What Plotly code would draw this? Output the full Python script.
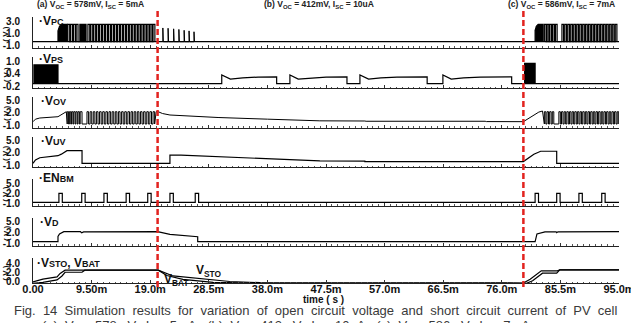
import plotly.graph_objects as go

W, H = 631, 323

# ---------------- data (time in ms, voltage in V) ----------------
TIME_TICKS = [0, 9.5, 19.0, 28.5, 38.0, 47.5, 57.0, 66.5, 76.0, 85.5, 95.0]
TIME_TICK_TEXT = ["0.00", "9.50m", "19.0m", "28.5m", "38.0m", "47.5m",
                  "57.0m", "66.5m", "76.0m", "85.5m", "95.0m"]
EVENT_TIMES = [20.2, 79.5]
HEADERS = ["(a) V<sub>OC</sub> = 578mV, I<sub>SC</sub> = 5mA",
           "(b) V<sub>OC</sub> = 412mV, I<sub>SC</sub> = 10uA",
           "(c) V<sub>OC</sub> = 586mV, I<sub>SC</sub> = 7mA"]
PANEL_LABELS = ["V<span style='font-size:9px'>PC</span>",
                "V<span style='font-size:9px'>PS</span>",
                "V<span style='font-size:9px'>OV</span>",
                "V<span style='font-size:9px'>UV</span>",
                "EN<span style='font-size:9px'>BM</span>",
                "V<span style='font-size:9px'>D</span>",
                "V<span style='font-size:9px'>STO</span>, V<span style='font-size:9px'>BAT</span>"]
Y_TICKS = [[3.0, 1.0, -1.0], [1.0, 0.4, -0.2], [5.0, 2.0, -1.0], [5.0, 2.0, -1.0],
           [5.0, 2.0, -1.0], [5.0, 2.0, -1.0], [4.0, 2.0, 0.0]]

# VPC
VPC_LOW, VPC_HIGH = -0.44, 2.52
VPC_BLOCK_A_T = [4.05, 4.05, 4.3, 4.6, 5.55, 5.55]
VPC_BLOCK_A_V = [-0.44, 1.4, 2.2, 2.52, 2.52, -0.44]
VPC_BLOCK_A2_T = [7.6, 7.6, 8.6, 8.6]
VPC_BLOCK_A2_V = [-0.44, 2.52, 2.52, -0.44]
VPC_BLOCK_C_T = [81.4, 81.4, 81.6, 81.9, 82.7, 82.7]
VPC_BLOCK_C_V = [-0.44, 1.5, 2.2, 2.52, 2.52, -0.44]
VPC_A_STARTS = [5.65, 6.1, 6.55, 7.0, 8.9, 9.38, 9.86, 10.34, 10.82, 11.3, 11.78,
                12.26, 12.74, 13.22, 13.7, 14.18, 14.66, 15.14, 15.62, 16.1, 16.58,
                17.06, 17.54, 18.02, 18.5, 18.98, 19.46]
VPC_A_WIDTH = 0.3
VPC_SMALL_STARTS = [21.05, 21.9, 22.8, 23.65, 24.5, 25.3, 26.1]
VPC_SMALL_HEIGHTS = [1.9, 1.85, 1.75, 1.65, 1.5, 1.4, 1.25]
VPC_SMALL_WIDTH = 0.08
VPC_C_STARTS = [82.9, 83.35, 83.8, 84.25, 84.7, 85.75, 86.23, 86.71, 87.19, 87.67,
                88.15, 88.63, 89.11, 89.59, 90.07, 90.55, 91.03, 91.51, 91.99, 92.47,
                92.95, 93.43, 93.91, 94.39]
VPC_C_WIDTH = 0.27

# VPS
VPS_BLOCK_A_T = [0.15, 0.15, 4.05, 4.05]
VPS_BLOCK_A_V = [-0.08, 0.84, 0.84, -0.08]
VPS_BLOCK_C_T = [79.7, 79.7, 81.4, 81.4]
VPS_BLOCK_C_V = [-0.08, 0.92, 0.92, -0.08]
VPS_T = [0, 30.6, 30.6, 32.0, 34.0, 36.5, 39.5, 39.5, 41.65, 41.65, 43.0, 45.0, 47.5,
         50.9, 50.9, 53.0, 53.0, 54.4, 56.4, 59.0, 63.9, 63.9, 66.45, 66.45, 67.8,
         69.8, 72.5, 77.6, 77.6, 95]
VPS_V = [-0.08, -0.08, 0.35, 0.14, 0.2, 0.24, 0.25, -0.08, -0.08, 0.35, 0.14, 0.2,
         0.24, 0.25, -0.08, -0.08, 0.35, 0.14, 0.2, 0.24, 0.25, -0.08, -0.08, 0.35,
         0.14, 0.2, 0.24, 0.25, -0.08, -0.08]

# VOV
VOV_LOW, VOV_HIGH = -0.76, 2.19
VOV_ENV1_T = [0, 0.4, 1.1, 4.05, 5.4]
VOV_ENV1_V = [-0.21, 0.4, 0.68, 0.99, 2.19]
VOV_A_STARTS = [5.55, 5.9, 6.25, 6.6, 6.95, 7.3, 7.65, 8.75, 9.26, 9.77, 10.28, 10.79,
                11.3, 11.81, 12.32, 12.83, 13.34, 13.85, 14.36, 14.87, 15.38, 15.89,
                16.4, 16.91, 17.42, 17.93, 18.44, 18.95, 19.46]
VOV_A_WIDTHS = [0.22, 0.22, 0.22, 0.22, 0.22, 0.22, 0.3, 0.26, 0.26, 0.26, 0.26, 0.26,
                0.26, 0.26, 0.26, 0.26, 0.26, 0.26, 0.26, 0.26, 0.26, 0.26, 0.26, 0.26,
                0.26, 0.26, 0.26, 0.26, 0.26]
VOV_ENV2_T = [19.97, 20.2, 21.0, 22.2, 25.0, 30.0, 38.0, 46.5, 53.8, 54.0, 73.3, 73.5,
              79.5, 80.2, 81.2, 82.0, 82.6]
VOV_ENV2_V = [2.19, 2.25, 1.75, 1.4, 1.15, 0.8, 0.4, 0.0, -0.04, -0.1, -0.1, -0.18,
              -0.2, 0.5, 1.4, 2.1, 2.36]
VOV_C_STARTS = [82.9, 83.33, 83.76, 84.19, 85.25, 85.68, 86.11, 86.54, 86.97, 87.4,
                87.83, 88.26, 88.69, 89.12, 89.55, 89.98, 90.41, 90.84, 91.27, 91.7,
                92.13, 92.56, 92.99, 93.42, 93.85, 94.28, 94.71]
VOV_C_WIDTH = 0.24

# VUV
VUV_T = [0, 0.4, 1.1, 4.05, 4.6, 5.2, 5.5, 7.95, 7.95, 22.2, 22.2, 24.0, 30.0, 38.0,
         46.5, 53.8, 53.8, 79.5, 80.2, 81.2, 82.3, 84.9, 84.9, 95]
VUV_V = [-0.59, 0.2, 0.75, 1.23, 1.6, 2.19, 2.43, 2.43, -0.59, -0.59, 1.4, 1.35, 1.0,
         0.6, 0.0, -0.05, -0.18, -0.18, 0.6, 1.6, 2.3, 2.3, -0.59, -0.59]

# ENBM
ENBM_LOW, ENBM_HIGH = -0.7, 2.0
ENBM_STARTS = [4.2, 7.9, 11.5, 15.1, 18.6, 22.2, 26.3, 81.4, 84.9, 88.5, 92.2]
ENBM_WIDTH = 0.55

# VD
VD_T = [0, 4.05, 4.05, 4.3, 5.0, 7.7, 7.9, 8.2, 20.2, 22.2, 26.7, 26.7, 81.4, 81.7,
        83.0, 84.8, 84.9, 85.1, 95]
VD_V = [-0.56, -0.56, 0.9, 1.6, 2.22, 2.22, 1.9, 2.15, 2.22, 1.5, 0.83, -0.56, -0.56,
        1.6, 2.15, 2.2, 1.95, 2.2, 2.22]

# VSTO / VBAT
VSTO_T = [0, 1.6, 3.9, 4.4, 5.2, 20.3, 22.7, 26.5, 31.9, 36.8, 50.0, 79.5, 80.6, 81.6,
          82.4, 85.0, 85.4, 95]
VSTO_V = [-0.08, 0.5, 1.0, 1.75, 2.45, 2.45, 1.2, 0.65, 0.0, -0.25, -0.32, -0.32, 0.5,
          1.4, 2.3, 2.3, 2.5, 2.5]
VBAT_T = [0, 1.6, 3.9, 4.7, 5.2, 7.95, 8.4, 20.3, 21.7, 24.3, 29.2, 36.8, 79.5, 80.0,
          81.0, 82.1, 82.6, 84.9, 85.4, 95]
VBAT_V = [-0.38, -0.2, 0.35, 1.2, 2.0, 2.0, 2.45, 2.45, 1.3, 0.45, -0.2, -0.38, -0.38,
          -0.38, 0.15, 1.2, 1.8, 1.8, 2.5, 2.5]

CAPTION_1 = "Fig. 14 Simulation results for variation of open circuit voltage and short circuit current of PV cell"
CAPTION_2 = ("(a) V<sub>OC</sub>=578mV, I<sub>SC</sub>=5mA, (b) V<sub>OC</sub>=412mV, "
             "I<sub>SC</sub>=10uA, (c) V<sub>OC</sub>=586mV, I<sub>SC</sub>=7mA")


# ---------------- helpers ----------------
def train(starts, widths, lo, hi):
    xs, ys = [], []
    if not isinstance(widths, list):
        widths = [widths] * len(starts)
    if not isinstance(hi, list):
        hi = [hi] * len(starts)
    for s, w, h in zip(starts, widths, hi):
        xs += [s, s, s + w, s + w]
        ys += [lo, h, h, lo]
    return xs, ys


def wide(text):
    # justified-looking caption: widen the gaps between words
    return text.replace(" ", "&nbsp;&nbsp;")


# ---------------- layout geometry (pixels) ----------------
X_LEFT, X_RIGHT = 33, 619
# (top px of domain, bottom px, px of first tick, px of last tick)
GEOM = [(17, 47.5, 21.5, 45.0), (57, 88, 61.7, 86.0), (97, 127.5, 100, 125),
        (137, 167, 140, 165), (179, 205.5, 183.3, 203.3), (218, 245.5, 221.7, 243.3),
        (257.5, 283, 263.0, 281.5)]


def py(p):
    return 1 - p / H


def px(p):
    return p / W


fig = go.Figure()
FONT_B = "Liberation Sans, Arial, sans-serif"


def add(i, xs, ys, fill=False, width=1.2):
    kw = dict(x=xs, y=ys, mode="lines", line=dict(color="black", width=width),
              xaxis="x" if i == 1 else f"x{i}", yaxis="y" if i == 1 else f"y{i}",
              showlegend=False, hoverinfo="skip")
    if fill:
        kw.update(fill="toself", fillcolor="black")
    fig.add_trace(go.Scatter(**kw))


# panel 1: VPC
add(1, [0, 95], [VPC_LOW, VPC_LOW])
add(1, VPC_BLOCK_A_T, VPC_BLOCK_A_V, fill=True)
add(1, VPC_BLOCK_A2_T, VPC_BLOCK_A2_V, fill=True)
add(1, VPC_BLOCK_C_T, VPC_BLOCK_C_V, fill=True)
add(1, *train(VPC_A_STARTS, VPC_A_WIDTH, VPC_LOW, VPC_HIGH))
add(1, *train(VPC_SMALL_STARTS, VPC_SMALL_WIDTH, VPC_LOW, VPC_SMALL_HEIGHTS), width=1)
add(1, *train(VPC_C_STARTS, VPC_C_WIDTH, VPC_LOW, VPC_HIGH))

# panel 2: VPS
add(2, VPS_T, VPS_V)
add(2, VPS_BLOCK_A_T, VPS_BLOCK_A_V, fill=True)
add(2, VPS_BLOCK_C_T, VPS_BLOCK_C_V, fill=True)

# panel 3: VOV
a_x, a_y = train(VOV_A_STARTS, VOV_A_WIDTHS, VOV_LOW, VOV_HIGH)
c_x, c_y = train(VOV_C_STARTS, VOV_C_WIDTH, VOV_LOW, VOV_HIGH)
add(3, VOV_ENV1_T + a_x + VOV_ENV2_T + c_x, VOV_ENV1_V + a_y + VOV_ENV2_V + c_y, width=1)

# panel 4: VUV
add(4, VUV_T, VUV_V)

# panel 5: ENBM
e_x, e_y = train(ENBM_STARTS, ENBM_WIDTH, ENBM_LOW, ENBM_HIGH)
add(5, [0] + e_x + [95], [ENBM_LOW] + e_y + [ENBM_LOW])

# panel 6: VD
add(6, VD_T, VD_V)

# panel 7: VSTO, VBAT
add(7, VSTO_T, VSTO_V)
add(7, VBAT_T, VBAT_V)

layout = {}
for i, (top, bot, p_hi, p_lo) in enumerate(GEOM, start=1):
    ticks = Y_TICKS[i - 1]
    v_hi, v_lo = ticks[0], ticks[-1]
    k = (p_lo - p_hi) / (v_hi - v_lo)
    r_top = v_hi + (p_hi - top) / k
    r_bot = v_lo - (bot - p_lo) / k
    sx = "" if i == 1 else str(i)
    layout[f"xaxis{sx}"] = dict(
        domain=[px(X_LEFT), px(X_RIGHT)], range=[0, 95], anchor=f"y{sx}",
        automargin=False,
        showline=True, linecolor="#222", linewidth=1, showgrid=False, zeroline=False,
        ticks="inside", ticklen=3, tickcolor="#333", tickvals=TIME_TICKS,
        ticktext=[f"<b>{t}</b>" for t in TIME_TICK_TEXT], showticklabels=(i == 7),
        tickfont=dict(family=FONT_B, size=11, color="#111"), ticklabeloverflow="allow",
        ticklabelstandoff=-4,
        minor=dict(ticks="inside", ticklen=1.5, dtick=0.95, tick0=0, tickcolor="#555"),
    )
    layout[f"yaxis{sx}"] = dict(
        domain=[py(bot), py(top)], range=[r_bot, r_top], anchor=f"x{sx}",
        automargin=False,
        showline=True, linecolor="#222", linewidth=1, showgrid=False, zeroline=False,
        ticks="outside", ticklen=10, tickcolor="rgba(0,0,0,0)",
        tickvals=ticks, ticktext=[f"<b>{t:.1f}</b>" for t in ticks],
        tickfont=dict(family=FONT_B, size=10, color="#111"),
    )

shapes = []
for t in EVENT_TIMES:
    shapes.append(dict(type="line", xref="x7", yref="paper", x0=t, x1=t,
                       y0=py(287), y1=py(11),
                       line=dict(color="#e2231f", width=2.5, dash="6px,3px")))

ann = []
for txt, x0 in zip(HEADERS, [35, 262, 506]):
    ann.append(dict(text=f"<b>{txt}</b>", x=px(x0), y=py(5), xref="paper", yref="paper",
                    xanchor="left", yanchor="middle", showarrow=False,
                    font=dict(family=FONT_B, size=8.5, color="#222")))
label_pos = [(37, 21), (37, 59), (39, 101), (39, 141), (37, 178), (38, 222), (35, 263)]
for txt, (lx, ly) in zip(PANEL_LABELS, label_pos):
    ann.append(dict(text=f"<b>·{txt}</b>", x=px(lx), y=py(ly), xref="paper", yref="paper",
                    xanchor="left", yanchor="middle", showarrow=False,
                    font=dict(family=FONT_B, size=12, color="#111")))
for top, bot, p_hi, p_lo in GEOM:
    ann.append(dict(text="<b>( V )</b>", x=px(6), y=py((p_hi + p_lo) / 2 + 1.5),
                    xref="paper", yref="paper", textangle=-90, showarrow=False,
                    xanchor="center", yanchor="middle",
                    font=dict(family=FONT_B, size=8, color="#111")))
ann.append(dict(text="<b>V<sub>STO</sub></b>", x=px(194), y=py(271), xref="paper",
                yref="paper", xanchor="left", yanchor="middle", showarrow=False,
                font=dict(family=FONT_B, size=12, color="#111")))
ann.append(dict(text="<b>V<sub>BAT</sub></b>", x=px(162), y=py(280), xref="paper",
                yref="paper", xanchor="left", yanchor="middle", showarrow=False,
                font=dict(family=FONT_B, size=12, color="#111")))
ann.append(dict(text="<b>time ( s )</b>", x=px(324), y=py(299), xref="paper",
                yref="paper", xanchor="center", yanchor="middle", showarrow=False,
                font=dict(family=FONT_B, size=10, color="#111")))
ann.append(dict(text=wide(CAPTION_1), x=px(315), y=py(310.5), xref="paper", yref="paper",
                xanchor="center", yanchor="middle", showarrow=False,
                font=dict(family="Liberation Sans, Arial, sans-serif", size=13,
                          color="#3a3a3a")))
ann.append(dict(text=wide(CAPTION_2), x=px(40), y=py(326), xref="paper", yref="paper",
                xanchor="left", yanchor="middle", showarrow=False,
                font=dict(family="Liberation Sans, Arial, sans-serif", size=13,
                          color="#3a3a3a")))

fig.update_layout(width=W, height=H, margin=dict(l=0, r=0, t=0, b=0, autoexpand=False),
                  paper_bgcolor="white", plot_bgcolor="white",
                  shapes=shapes, annotations=ann, **layout)
fig.write_html("out.html")
